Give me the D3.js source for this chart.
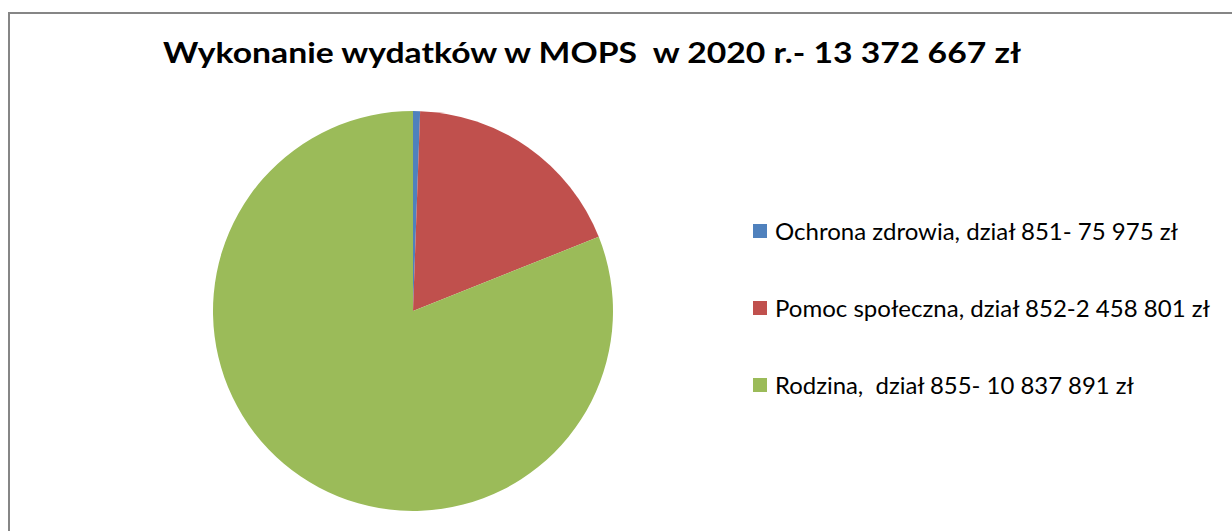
<!DOCTYPE html>
<html><head><meta charset="utf-8">
<script src="https://cdn.jsdelivr.net/npm/d3@7"></script>
<style>body{margin:0;background:#fff}svg{display:block}text{white-space:pre}</style>
</head><body><svg id="c" width="1232" height="531"></svg>
<script>
const title = "Wykonanie wydatków w MOPS  w 2020 r.- 13 372 667 zł";
const categories = ["Ochrona zdrowia, dział 851- 75 975 zł", "Pomoc społeczna, dział 852-2 458 801 zł", "Rodzina,  dział 855- 10 837 891 zł"];
const values = [75975, 2458801, 10837891];
const colors = ["#4F81BD", "#C0504D", "#9BBB59"];

const svg = d3.select("#c");
svg.append("rect").attr("x",0).attr("y",0).attr("width",1232).attr("height",531).attr("fill","#fff");
svg.append("path").attr("d","M9,531 L9,13 L1232,13").attr("fill","none").attr("stroke","#868686").attr("stroke-width",2);

const font = "Lato, 'Open Sans', sans-serif";
svg.append("text").attr("x",592).attr("y",63).attr("text-anchor","middle")
  .attr("font-family",font).attr("font-weight","bold").attr("font-size",28).attr("fill","#000").text(title)
  .attr("textLength", 858).attr("lengthAdjust","spacingAndGlyphs");

const cx = 413, cy = 311, r = 200;
const pie = d3.pie().sort(null).startAngle(0).endAngle(2*Math.PI);
const arc = d3.arc().innerRadius(0).outerRadius(r);
svg.append("g").attr("transform",`translate(${cx},${cy})`)
  .selectAll("path").data(pie(values)).join("path")
  .attr("d",arc).attr("fill",(d,i)=>colors[i]);

const ly = d3.scalePoint().domain(categories).range([231,385]);
const lg = svg.append("g").selectAll("g").data(categories).join("g")
  .attr("transform",d=>`translate(753,${ly(d)})`);
lg.append("rect").attr("x",0).attr("y",-7).attr("width",14).attr("height",14).attr("fill",(d,i)=>colors[i]);
const widths = [403, 435, 359];
lg.append("text").attr("x",22).attr("y",9).attr("font-family",font).attr("font-size",22.5).attr("fill","#000")
  .text(d=>d).attr("textLength",(d,i)=>widths[i]).attr("lengthAdjust","spacingAndGlyphs");
</script></body></html>
